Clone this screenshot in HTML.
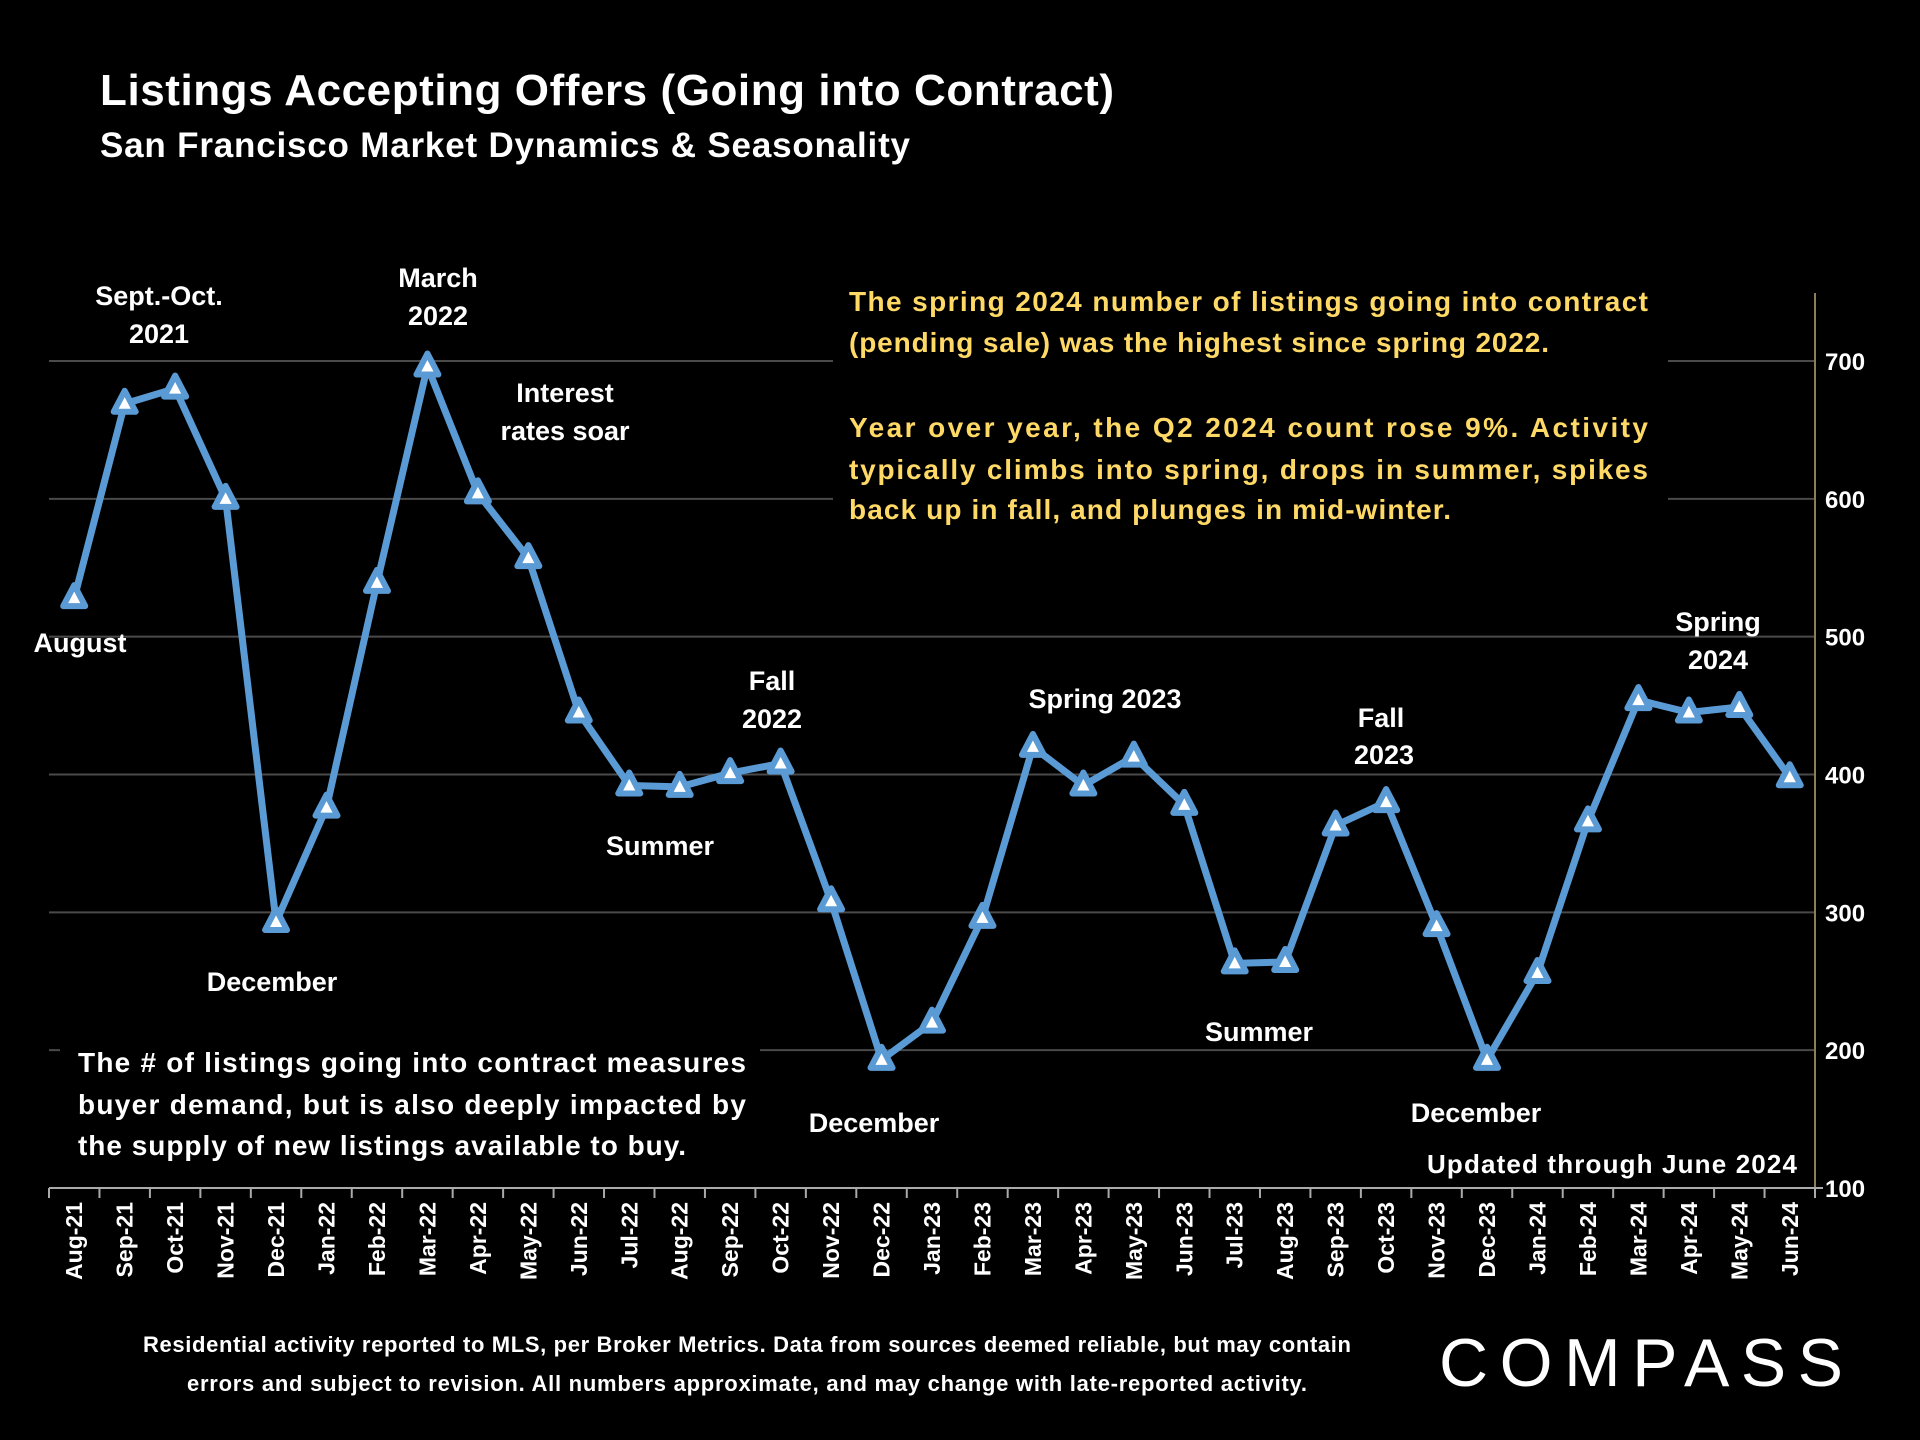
<!DOCTYPE html>
<html><head><meta charset="utf-8"><style>
html,body{margin:0;padding:0;background:#000;}
svg{display:block;font-family:"Liberation Sans",sans-serif;font-weight:bold;}
</style></head><body>
<svg id="chart" width="1920" height="1440" viewBox="0 0 1920 1440">
<rect width="1920" height="1440" fill="#000"/>
<text x="100" y="105" fill="#fff" font-size="44" textLength="1014">Listings Accepting Offers (Going into Contract)</text>
<text x="100" y="157" fill="#fff" font-size="35" textLength="810">San Francisco Market Dynamics &amp; Seasonality</text>
<g id="grid"></g>
<g id="axes"></g>
<g id="plot"></g>
<g id="ann"></g>
<text x="747" y="1352" fill="#fff" font-size="22" text-anchor="middle" textLength="1208">Residential activity reported to MLS, per Broker Metrics. Data from sources deemed reliable, but may contain</text>
<text x="747" y="1391" fill="#fff" font-size="22" text-anchor="middle" textLength="1120">errors and subject to revision. All numbers approximate, and may change with late-reported activity.</text>
<text x="1439" y="1386" fill="#fff" font-size="68" font-weight="normal" textLength="404">COMPASS</text>
</svg>
<script>
const categories=["Aug-21","Sep-21","Oct-21","Nov-21","Dec-21","Jan-22","Feb-22","Mar-22","Apr-22","May-22","Jun-22","Jul-22","Aug-22","Sep-22","Oct-22","Nov-22","Dec-22","Jan-23","Feb-23","Mar-23","Apr-23","May-23","Jun-23","Jul-23","Aug-23","Sep-23","Oct-23","Nov-23","Dec-23","Jan-24","Feb-24","Mar-24","Apr-24","May-24","Jun-24"];
const values=[528,669,680,600,293,376,539,696,604,557,445,392,391,401,408,308,193,220,296,420,392,413,378,263,264,363,380,290,193,256,366,454,445,449,398];
const yTicks=[100,200,300,400,500,600,700];
const NS="http://www.w3.org/2000/svg";
const X0=49,X1=1815,Y0=1188,Y1=361,YMIN=100,YMAX=700;
const step=(X1-X0)/categories.length;
function xs(i){return X0+step*(i+0.5);}
function ys(v){return Y0-(v-YMIN)/(YMAX-YMIN)*(Y0-Y1);}
function mk(tag,attrs,parent){const e=document.createElementNS(NS,tag);for(const k in attrs)e.setAttribute(k,attrs[k]);parent.appendChild(e);return e;}
const grid=document.getElementById('grid'),axes=document.getElementById('axes'),plot=document.getElementById('plot'),ann=document.getElementById('ann');
yTicks.forEach(t=>{
  if(t>YMIN){const l=mk('line',{x1:X0,x2:X1,y1:ys(t),y2:ys(t),stroke:'#4a4a4a','stroke-width':2},grid);
  
  }
  const tx=mk('text',{x:1825,y:ys(t)+9,fill:'#fff','font-size':24},axes);tx.textContent=t;
  
  
});
mk('rect',{x:833,y:272,width:835,height:255,fill:'#000'},grid);
mk('rect',{x:60,y:1035,width:700,height:140,fill:'#000'},grid);
mk('rect',{x:1298,y:700,width:165,height:70,fill:'#000'},grid);
const yl=mk('line',{x1:X1,x2:X1,y1:293,y2:1195,stroke:'#8a7f55','stroke-width':2},axes);


const xl=mk('line',{x1:X0,x2:X1+8,y1:Y0,y2:Y0,stroke:'#aaa','stroke-width':2},axes);


for(let i=0;i<=categories.length;i++){const x=X0+step*i;mk('line',{x1:x,x2:x,y1:Y0,y2:Y0+10,stroke:'#aaa','stroke-width':2},axes);}
categories.forEach((c,i)=>{const t=mk('text',{x:0,y:0,fill:'#fff','font-size':23,'text-anchor':'end',transform:`translate(${xs(i)+8},${Y0+14}) rotate(-90)`},axes);t.textContent=c;
  
  });
const pts=values.map((v,i)=>xs(i)+','+ys(v)).join(' ');
const pl=mk('polyline',{points:pts,fill:'none',stroke:'#5b9bd5','stroke-width':7,'stroke-linejoin':'round'},plot);


values.forEach((v,i)=>{const x=xs(i),y=ys(v);const m=mk('polygon',{points:`${x},${y-13} ${x+11},${y+8} ${x-11},${y+8}`,fill:'#fff',stroke:'#5b9bd5','stroke-width':6,'stroke-linejoin':'round'},plot);
  
  });
const labels=[["Sept.-Oct.",159,305],["2021",159,343],["March",438,287],["2022",438,325],["Interest",565,402],["rates soar",565,440],["August",80,652],["December",272,991],["Summer",660,855],["Fall",772,690],["2022",772,728],["December",874,1132],["Spring 2023",1105,708],["Summer",1259,1041],["Fall",1381,727],["2023",1384,764],["December",1476,1122],["Spring",1718,631],["2024",1718,669]];
labels.forEach((l,i)=>{const t=mk('text',{x:l[1],y:l[2],fill:'#fff','font-size':27,'text-anchor':'middle'},ann);t.textContent=l[0];
  
  });
const upd=mk('text',{x:1797,y:1173,fill:'#fff','font-size':26,'text-anchor':'end',textLength:370},ann);upd.textContent="Updated through June 2024";


const yel=[["The spring 2024 number of listings going into contract",311,799],["(pending sale) was the highest since spring 2022.",352,700],["Year over year, the Q2 2024 count rose 9%. Activity",437,799],["typically climbs into spring, drops in summer, spikes",479,799],["back up in fall, and plunges in mid-winter.",519,602]];
yel.forEach((l,i)=>{const t=mk('text',{x:849,y:l[1],fill:'#ffd966','font-size':28,textLength:l[2],lengthAdjust:'spacing'},ann);t.textContent=l[0];
  
  });
const wl=[["The # of listings going into contract measures",1072,668],["buyer demand, but is also deeply impacted by",1114,668],["the supply of new listings available to buy.",1155,608]];
wl.forEach((l,i)=>{const t=mk('text',{x:78,y:l[1],fill:'#fff','font-size':28,textLength:l[2],lengthAdjust:'spacing'},ann);t.textContent=l[0];
  
  });
</script>
</body></html>
